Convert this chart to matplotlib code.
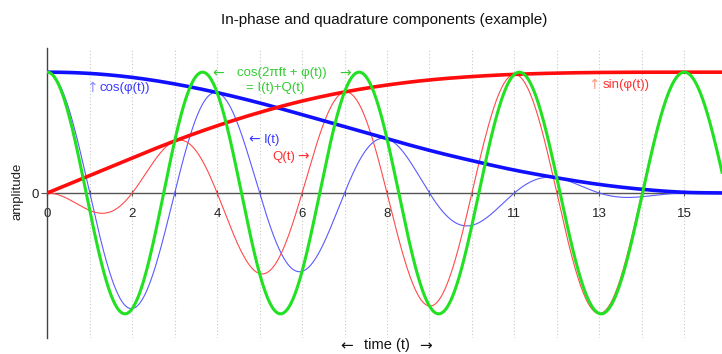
import numpy as np
import matplotlib
matplotlib.use("Agg")
import matplotlib.pyplot as plt

plt.rcParams["font.family"] = ["Liberation Sans", "DejaVu Sans"]

# Carrier frequency (cycles per unit time)
carrier_freq = 0.25

# Phase modulation phi(t), sampled at integer times
phase_t = [0, 1, 2, 3, 4, 5, 6, 7, 8, 9, 10, 11, 12, 13, 14, 15, 16]
phase_rad = [0.0, 0.145, 0.295, 0.445, 0.59, 0.73, 0.865, 0.99, 1.105,
             1.21, 1.30, 1.38, 1.445, 1.50, 1.54, 1.565, 1.5708]

x_tick_values = [0, 2, 4, 6, 8, 11, 13, 15]
x_grid_values = list(range(0, 16))

title_text = "In-phase and quadrature components (example)"


def smooth_phase(tq, tk, yk):
    """Piecewise cubic Hermite curve through the phase samples."""
    tk = np.asarray(tk, float)
    yk = np.asarray(yk, float)
    m = np.gradient(yk, tk)
    i = np.clip(np.searchsorted(tk, tq) - 1, 0, len(tk) - 2)
    h = tk[i + 1] - tk[i]
    s = (tq - tk[i]) / h
    h00 = 2 * s**3 - 3 * s**2 + 1
    h10 = s**3 - 2 * s**2 + s
    h01 = -2 * s**3 + 3 * s**2
    h11 = s**3 - s**2
    return h00 * yk[i] + h10 * h * m[i] + h01 * yk[i + 1] + h11 * h * m[i + 1]


t_end = 15.89
t = np.linspace(0, t_end, 3000)
phi = np.clip(smooth_phase(t, phase_t, phase_rad), 0, np.pi / 2)
wt = 2 * np.pi * carrier_freq * t

cos_phi = np.cos(phi)
sin_phi = np.sin(phi)
i_t = cos_phi * np.cos(wt)
q_t = -sin_phi * np.sin(wt)
signal = np.cos(wt + phi)

fig = plt.figure(figsize=(7.22, 3.54), dpi=100)
ax = fig.add_axes([47.3 / 722, 16 / 354, (722 - 47.3) / 722, 290 / 354])
ax.set_xlim(0, t_end)
ax.set_ylim(-1.2, 1.2)

# Thin component curves
ax.plot(t, i_t, color="#5a5aff", lw=0.8, zorder=3)
ax.plot(t, q_t, color="#ff4a4a", lw=0.8, zorder=3)
# Envelopes
ax.plot(t, cos_phi, color="#1010ff", lw=2.6, zorder=4, solid_capstyle="butt")
ax.plot(t, sin_phi, color="#ff0d0d", lw=2.6, zorder=4, solid_capstyle="butt")
# Modulated signal
ax.plot(t, signal, color="#22e022", lw=2.2, zorder=5)

# Axes styling
for side in ("top", "right"):
    ax.spines[side].set_visible(False)
ax.spines["bottom"].set_position(("data", 0))
ax.spines["bottom"].set_color("#555555")
ax.spines["left"].set_color("#444444")
ax.spines["left"].set_linewidth(1.0)
ax.spines["bottom"].set_linewidth(1.0)

ax.set_xticks(x_grid_values)
ax.set_xticklabels([str(v) if v in x_tick_values else "" for v in x_grid_values],
                   fontsize=9.5, color="#222222")
ax.tick_params(axis="x", direction="inout", length=4, width=0.8,
               color="#555555", pad=9)
ax.set_yticks([0])
ax.set_yticklabels(["0"], fontsize=9.5, color="#222222")
ax.tick_params(axis="y", length=4, width=0.8, color="#555555", pad=2)
ax.xaxis.grid(True, color="#c8c8c8", linestyle=(0, (1, 2)), lw=0.8)
ax.set_axisbelow(True)

# Curve annotations
lab = dict(fontsize=9.5, va="center", zorder=6)
arr = dict(fontsize=10, va="center", zorder=6, family="DejaVu Sans")
green = "#33cc33"
ax.text(1.05, 0.87, "\u2191", color="#8c8cff", ha="center", **arr)
ax.text(1.24, 0.87, "cos(\u03c6(t))", color="#3a3aff", ha="left", **lab)

ax.text(4.02, 0.99, "\u2190", color=green, ha="center", **arr)
ax.text(5.52, 0.99, "cos(2\u03c0ft + \u03c6(t))", color=green, ha="center", **lab)
ax.text(7.01, 0.99, "\u2192", color=green, ha="center", **arr)
ax.text(5.36, 0.865, "= I(t)+Q(t)", color=green, ha="center", **lab)

ax.text(4.87, 0.44, "\u2190", color="#3a3aff", ha="center", **arr)
ax.text(5.10, 0.44, "I(t)", color="#3a3aff", ha="left", **lab)
ax.text(5.29, 0.30, "Q(t)", color="#ff3030", ha="left", **lab)
ax.text(6.03, 0.30, "\u2192", color="#ff3030", ha="center", **arr)

ax.text(12.88, 0.895, "\u2191", color="#ff9a80", ha="center", **arr)
ax.text(13.09, 0.895, "sin(\u03c6(t))", color="#ff3030", ha="left", **lab)

fig.text(17 / 722, 1 - 191 / 354, "amplitude", rotation=90, fontsize=9.5,
         color="#222222", ha="center", va="center")
fig.text(347 / 722, 1 - 346 / 354, "\u2190", fontsize=11, family="DejaVu Sans",
         color="#111111", ha="center", va="center")
fig.text(387 / 722, 1 - 345 / 354, "time (t)", fontsize=10.5,
         color="#111111", ha="center", va="center")
fig.text(426 / 722, 1 - 346 / 354, "\u2192", fontsize=11, family="DejaVu Sans",
         color="#111111", ha="center", va="center")
fig.text(384 / 722, 1 - 20 / 354, title_text, fontsize=11, color="#111111",
         ha="center", va="center")

fig.savefig("out.png", dpi=100, facecolor="white")
